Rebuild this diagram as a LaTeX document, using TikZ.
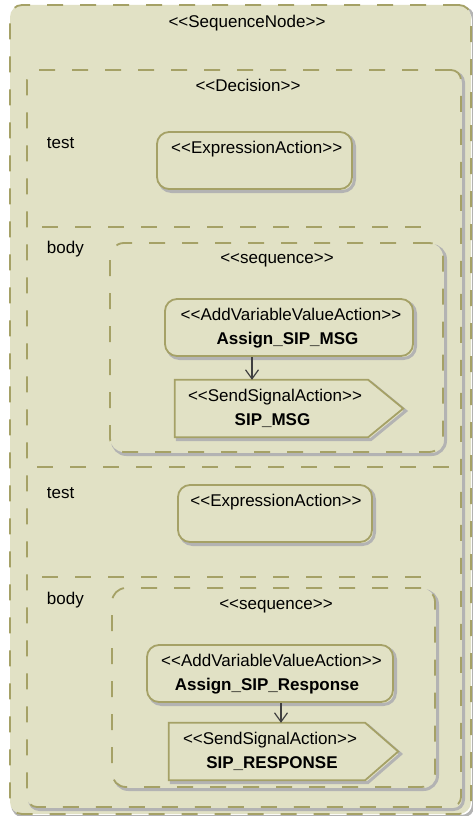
\documentclass[tikz,border=0pt]{standalone}
\usepackage{fontspec}
\setmainfont{Liberation Sans}
\usetikzlibrary{arrows.meta,calc}
\definecolor{bgc}{HTML}{E1E1C5}
\definecolor{olv}{HTML}{A5A166}
\definecolor{shd}{HTML}{B3B3B3}
\definecolor{arrc}{HTML}{404040}
\newcommand\stL{<\kern0pt<}
\newcommand\stR{>\kern0pt>}
\begin{document}
\begin{tikzpicture}[x=1pt,y=-1pt,
  txt/.style={inner sep=0pt, anchor=base, font=\fontsize{17}{23}\selectfont, text=black},
  lbl/.style={txt, anchor=base west},
  bld/.style={txt, font=\fontsize{17}{23}\selectfont\bfseries},
  shadowed/.style={preaction={draw=shd, solid, line width=3pt, fill=none, transform canvas={shift={(2.5pt,-2.5pt)}}}},
  dbox/.style={rectangle, inner sep=0pt, fill=bgc, draw=olv, line width=1.8pt, dash pattern=on 16pt off 17pt, shadowed},
  abox/.style={rectangle, inner sep=0pt, fill=bgc, draw=olv, line width=1.8pt, rounded corners=12pt, shadowed},
  sigrect/.style={rectangle, inner sep=0pt, draw=none},
  sigshape/.style={fill=bgc, draw=olv, line width=1.8pt, line join=miter, shadowed},
  divider/.style={draw=olv, line width=1.8pt, dash pattern=on 16pt off 17pt},
  arr/.style={draw=arrc, line width=1.2pt, -{Straight Barb[length=9pt,width=13pt]}}
]
\fill[white] (0,0) rectangle (472,816);
\useasboundingbox (0,0) rectangle (472,816);

% containers
\node[dbox, rounded corners=12pt, minimum width=461pt, minimum height=809pt] (seqnode) at (240.5,409.5) {};
\node[dbox, rounded corners=10pt, minimum width=434pt, minimum height=737pt] (decision) at (244,438.5) {};

% dividers
\draw[divider] (42,227) -- (437,227);
\draw[divider] (37,467) -- (453,467);
\draw[divider] (42,577) -- (437,577);

% clause 1
\node[abox, minimum width=195pt, minimum height=57pt] (expr1) at (254.5,160.5) {};
\node[dbox, rounded corners=14pt, minimum width=333pt, minimum height=209pt] (seq1) at (276.5,347.5) {};
\node[abox, minimum width=248pt, minimum height=57pt] (av1) at (289,327.5) {};
\node[sigrect, minimum width=193pt, minimum height=57pt] (ss1) at (271.5,408.5) {};
\draw[sigshape] (ss1.north west) -- (ss1.north east) -- ([xshift=35pt]ss1.east) -- (ss1.south east) -- (ss1.south west) -- cycle;
\coordinate (ax1) at (252,0);
\draw[arr] (av1.south -| ax1) -- (ss1.north -| ax1);

% clause 2
\node[abox, minimum width=194pt, minimum height=57pt] (expr2) at (275,513.5) {};
\node[dbox, rounded corners=14pt, minimum width=323pt, minimum height=199pt] (seq2) at (273.5,687.5) {};
\node[abox, minimum width=246pt, minimum height=57pt] (av2) at (270,673.5) {};
\node[sigrect, minimum width=196pt, minimum height=57pt] (ss2) at (267,751.5) {};
\draw[sigshape] (ss2.north west) -- (ss2.north east) -- ([xshift=33pt]ss2.east) -- (ss2.south east) -- (ss2.south west) -- cycle;
\coordinate (ax2) at (281,0);
\draw[arr] (av2.south -| ax2) -- (ss2.north -| ax2);

% texts
\node[txt] (tseqnode) at (247,28) {\stL SequenceNode\stR};
\node[txt] (tdecision) at (248,92) {\stL Decision\stR};
\node[lbl] (ttest1) at (46.7,148) {test};
\node[txt] (texpr1) at (256.7,153) {\stL ExpressionAction\stR};
\node[lbl] (tbody1) at (46.7,253) {body};
\node[txt] (tseq1) at (277,263) {\stL sequence\stR};
\node[txt] (tav1a) at (291,320.7) {\stL AddVariableValueAction\stR};
\node[bld] (tav1b) at (287.5,344) {Assign\_SIP\_MSG};
\node[txt] (tss1a) at (275,401.7) {\stL SendSignalAction\stR};
\node[bld] (tss1b) at (272.5,425) {SIP\_MSG};

\node[lbl] (ttest2) at (46.7,498) {test};
\node[txt] (texpr2) at (276,506) {\stL ExpressionAction\stR};
\node[lbl] (tbody2) at (46.7,604) {body};
\node[txt] (tseq2) at (276,609) {\stL sequence\stR};
\node[txt] (tav2a) at (271.5,666.7) {\stL AddVariableValueAction\stR};
\node[bld] (tav2b) at (267,690) {Assign\_SIP\_Response};
\node[txt] (tss2a) at (270,744.3) {\stL SendSignalAction\stR};
\node[bld] (tss2b) at (272,768.3) {SIP\_RESPONSE};
\end{tikzpicture}
\end{document}
